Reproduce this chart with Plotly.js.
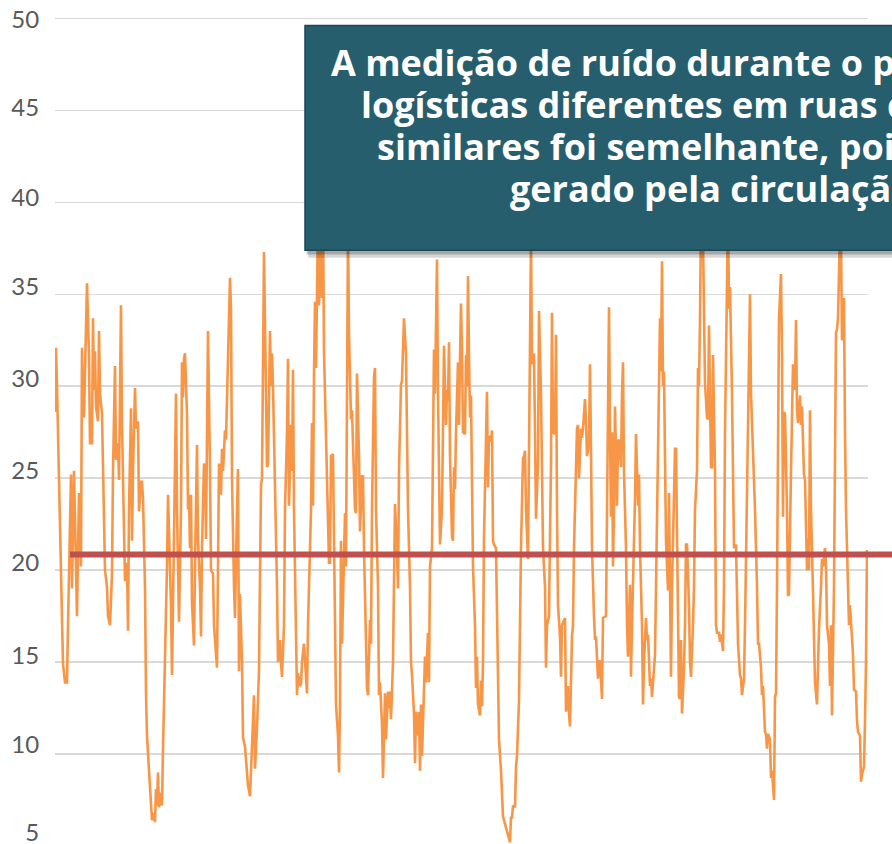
<!DOCTYPE html>
<html>
<head>
<meta charset="utf-8">
<script src="https://cdn.plot.ly/plotly-3.0.1.min.js"></script>
<style>
html,body{margin:0;padding:0;overflow:hidden;background:#fff;}
#chart{width:892px;height:872px;}
</style>
</head>
<body>
<div id="chart"></div>
<script>
// Noise readings (sample index, dB), in four stretches
const readingsA = [[0,28.6],[1,32.1],[2,30.0],[7,17.0],[8,14.9],[10,13.9],[12,13.9],[13,17.0],[14,20.2],[16,25.2],[17,19.0],[19,25.4],[21,20.2],[22,17.5],[24,24.2],[26,20.2],[27,32.1],[28,28.9],[29,28.3],[32,35.6],[34,31.7],[35,26.9],[37,26.9],[38,33.7],[39,29.8],[40,31.9],[41,28.9],[43,28.1],[44,33.0],[45,29.6],[47,28.5],[48,25.0],[50,20.0],[52,19.1],[53,17.5],[55,17.0],[57,19.8],[58,25.4],[60,31.1],[61,26.0],[63,26.9],[64,24.9],[65,28.5],[66,34.4],[67,27.9],[69,21.2],[70,19.4],[72,20.4],[73,16.7],[74,23.3],[76,28.8],[77,21.6],[78,25.4],[80,29.9],[81,27.7],[83,28.1],[84,23.2],[86,24.8],[87,24.8],[88,23.9],[90,19.1],[91,13.3],[92,11.0],[94,9.1],[96,7.4],[97,6.4],[98,6.8],[100,6.3],[101,8.1],[102,7.2],[103,9.0],[104,7.1],[106,7.9],[107,7.2],[108,10.3],[110,15.0],[112,20.2],[113,24.1],[114,22.3],[116,18.1],[117,14.3],[119,21.6],[121,29.6],[122,23.3],[124,17.2],[126,23.3],[127,31.3],[128,29.4],[129,31.5],[130,31.8],[132,28.5],[133,23.3],[134,24.1],[135,21.2],[136,24.1],[137,18.2],[139,15.9],[140,20.2],[142,26.8],[143,21.6],[145,19.1],[146,16.4],[147,21.2],[149,25.8],[150,25.6],[151,21.7],[152,27.5],[153,33.0],[155,25.4],[156,20.0],[158,19.8],[159,17.0],[162,14.7],[163,21.2],[164,25.8],[166,24.1],[167,26.6],[168,25.4],[170,27.6],[171,27.1],[172,29.6],[174,33.7],[175,35.9],[176,34.2],[177,25.0],[179,19.1],[180,17.4],[182,23.3],[183,25.5],[184,14.5],[185,18.7],[187,15.0],[188,10.9],[190,10.4],[192,8.7],[193,8.3],[195,7.7],[196,9.1],[197,9.8],[199,13.2],[200,9.2]];
const readingsB = [[202,11.4],[204,14.6],[206,24.6],[207,25.0],[209,37.3],[211,29.6],[212,25.6],[213,25.8],[215,33.0],[216,30.0],[217,31.8],[218,30.0],[219,27.5],[221,23.3],[222,19.1],[223,15.0],[225,16.2],[226,15.0],[227,14.2],[229,17.0],[230,23.3],[232,27.5],[233,31.5],[234,23.5],[236,27.9],[237,25.4],[238,30.9],[239,23.3],[241,17.0],[242,13.2],[243,14.4],[245,13.7],[246,13.8],[247,15.0],[249,16.0],[250,15.0],[252,13.3],[253,17.0],[254,18.8],[256,23.3],[257,28.0],[258,23.5],[259,30.6],[260,34.6],[261,31.0],[262,35.8],[263,39.0],[264,34.4],[266,38.0],[267,34.8],[268,39.5],[269,31.9],[271,27.5],[273,23.3],[274,20.4],[275,20.4],[276,26.2],[278,26.3],[279,21.2],[280,17.0],[281,12.7],[283,11.0],[284,9.0],[285,12.7],[286,21.6],[287,16.0],[289,20.2],[290,23.1],[291,20.2],[292,30.6],[293,38.5],[294,32.9],[296,28.2],[297,28.7],[298,26.6],[300,23.3],[301,23.1],[302,30.7],[304,26.2],[305,22.1],[307,25.1],[308,25.1],[309,21.2],[311,17.0],[312,13.6],[313,13.2],[315,17.3],[316,16.0],[317,23.3],[319,30.5],[320,31.0],[321,23.3],[323,19.1],[324,13.2],[325,13.9],[327,11.6],[328,8.7],[330,13.3],[331,10.8],[333,13.4],[334,12.5],[335,13.4],[336,11.9],[338,15.0],[339,19.1],[340,23.6],[342,21.0],[343,19.0],[344,25.4],[346,30.1],[347,30.3],[348,31.7],[349,33.7],[351,31.7],[352,27.5],[353,23.3],[355,19.1],[356,15.0],[357,14.3],[359,12.2],[360,9.5],[361,12.3],[363,11.0],[364,12.3],[365,9.1],[366,12.7],[367,9.9],[369,13.9],[370,15.3],[371,13.9],[373,16.6],[374,13.9],[375,20.2],[377,21.2],[378,25.4],[379,32.0],[380,29.6],[382,36.9],[383,29.6],[384,23.3],[385,21.4],[387,23.3],[388,27.9],[389,32.2],[391,27.9],[392,29.8],[393,29.2],[394,32.4],[395,26.2],[397,21.8],[398,21.6],[399,25.6],[400,24.4],[401,27.5],[403,31.3],[404,27.9],[405,31.5],[406,34.5]];
const readingsC = [[407,31.9],[408,27.5],[410,27.4],[411,31.7],[412,30.0],[413,36.0],[414,31.7],[415,28.3],[416,29.5],[417,25.4],[418,20.2],[420,17.0],[421,13.6],[422,15.3],[423,12.7],[425,12.1],[426,14.0],[427,12.6],[428,15.0],[429,21.8],[430,24.4],[432,29.7],[433,24.5],[434,27.3],[436,27.0],[437,27.6],[438,21.6],[439,21.4],[441,21.2],[442,17.0],[443,13.9],[444,10.8],[446,9.1],[447,7.9],[448,6.6],[450,6.2],[452,5.8],[453,5.6],[455,5.2],[456,6.6],[457,6.5],[458,7.2],[460,7.1],[461,9.3],[462,9.9],[464,12.9],[465,17.0],[466,21.2],[468,26.1],[469,26.2],[470,26.5],[471,23.3],[473,20.6],[474,25.4],[475,31.7],[476,38.0],[477,31.2],[479,31.8],[480,27.5],[481,22.8],[483,25.8],[484,34.1],[486,29.6],[487,25.4],[488,21.2],[490,19.1],[491,14.7],[492,17.0],[494,17.5],[495,21.8],[496,25.8],[497,34.0],[498,27.5],[500,27.4],[501,32.8],[502,23.3],[503,18.1],[505,16.4],[506,14.2],[507,17.0],[510,17.4],[511,12.3],[513,13.7],[514,12.2],[515,11.5],[517,16.4],[518,17.0],[519,21.2],[521,26.0],[522,27.7],[523,27.9],[524,25.0],[526,27.7],[527,27.2],[528,27.7],[530,29.3],[531,28.1],[532,26.2],[534,26.9],[535,31.2],[536,26.4],[537,21.2],[539,17.5],[540,16.2],[541,16.4],[543,14.1],[544,15.0],[545,15.1],[547,13.0],[548,17.4],[551,17.5],[552,23.3],[553,29.6],[554,34.3],[555,27.6],[556,22.9],[557,27.5],[558,20.2],[559,23.3],[560,28.9],[562,23.5],[563,27.0],[564,27.1],[566,25.6],[567,29.6],[568,31.3],[569,25.4],[571,21.2],[572,17.0],[573,15.3],[575,19.2],[576,14.2],[577,17.0],[579,21.2],[580,23.9],[581,27.4],[583,23.5],[584,25.2],[585,21.2],[587,17.0],[588,12.7],[589,15.0],[591,17.4],[592,16.2],[593,16.5],[595,13.7],[596,14.1],[597,13.1],[599,15.0],[600,15.4],[601,19.1],[603,25.4],[604,29.6],[605,33.7],[606,30.8],[607,36.8],[608,30.0],[609,30.8]];
const readingsD = [[611,21.6],[613,18.9],[614,24.2],[615,17.4],[616,14.2],[617,19.1],[618,21.2],[620,26.6],[621,26.6],[622,21.2],[623,17.0],[624,13.1],[625,13.0],[626,16.2],[627,12.2],[629,14.7],[630,17.0],[631,21.4],[632,21.4],[634,18.1],[635,15.0],[636,14.2],[638,17.0],[639,19.1],[640,23.3],[642,25.4],[643,31.0],[644,30.0],[645,33.7],[646,39.0],[648,38.0],[649,33.7],[650,30.2],[652,28.3],[653,28.2],[654,33.3],[656,25.6],[657,25.6],[658,31.7],[660,25.4],[661,17.0],[662,16.6],[664,16.6],[665,16.1],[666,16.5],[668,15.6],[669,19.1],[670,27.5],[672,34.2],[673,39.5],[674,34.2],[675,35.4],[677,29.6],[678,25.4],[679,21.2],[681,21.4],[682,18.1],[683,16.0],[685,14.3],[686,14.1],[687,13.2],[689,14.1],[690,17.0],[691,21.2],[693,27.5],[694,33.5],[695,35.0],[696,29.6],[698,26.9],[699,25.0],[700,23.3],[702,19.1],[703,16.0],[704,16.0],[706,14.7],[707,13.2],[708,13.7],[710,11.2],[711,11.1],[712,10.3],[713,11.1],[715,10.8],[716,8.7],[717,9.1],[719,7.5],[720,13.1],[721,13.3],[722,19.1],[723,27.5],[724,33.7],[726,36.1],[727,31.7],[728,22.9],[729,28.6],[730,28.5],[732,23.3],[733,18.6],[734,18.7],[736,25.4],[737,29.2],[738,31.2],[740,29.8],[741,33.6],[742,28.7],[743,28.0],[745,29.5],[746,27.9],[747,28.9],[749,25.2],[750,24.9],[751,21.4],[752,20.0],[753,21.7],[754,20.0],[755,28.7],[756,23.3],[758,18.8],[759,15.0],[760,13.9],[762,12.7],[763,15.0],[764,16.8],[766,19.1],[767,20.6],[768,20.2],[770,21.2],[771,20.2],[772,17.0],[774,16.0],[775,13.7],[776,17.0],[777,12.1],[779,19.1],[780,27.5],[781,32.9],[782,33.1],[783,33.7],[785,38.5],[786,38.0],[787,32.5],[789,34.8],[790,27.5],[791,23.3],[793,19.1],[794,17.0],[795,18.1],[797,16.0],[798,15.4],[799,13.5],[801,13.4],[802,11.8],[803,11.2],[805,11.0],[806,8.5],[807,8.9],[809,9.3],[810,11.8],[811,15.0],[812,21.1],[813,19.7]];

const meanLevel = 20.85;
const meanStartSample = 15;
const yTicks = [5,10,15,20,25,30,35,40,45,50];
const yTickLabels = ['5','10','15','20','25','30','35','40','45','50'];
const boxLines = [
  "A medição de ruído durante o período das duas operações",
  "logísticas diferentes em ruas com características",
  "similares foi semelhante, pois o ruído é sobretudo",
  "gerado pela circulação de veículos."
];

const all = readingsA.concat(readingsB, readingsC, readingsD);
const xs = all.map(p => p[0]);
const ys = all.map(p => p[1]);
const xMax = 813;

const traces = [{
  x: xs, y: ys, type: 'scatter', mode: 'lines',
  line: {color: '#F79646', width: 2.6},
  hoverinfo: 'skip', showlegend: false
}];

// In the reference picture the tick labels sit slightly above their gridlines,
// increasingly so towards the bottom; nudge the labels accordingly
// (gridlines stay on the round values through the minor ticks).
const labelNudge = [0.71, 0.49, 0.34, 0.43, 0.42, 0.42, 0.42, 0.27, 0.16, -0.06];
const labelAt = yTicks.map((v, i) => v + labelNudge[i]);

// Layout of the callout box (paper fractions of an 833.5 px tall plot) and of its text lines
const plotH = 833.5, plotTop = 12.5;
const py = px => 1 - (px - plotTop) / plotH;
const boxX0 = 0.3075, boxYTop = py(25), boxYBot = py(250);
const lineLeft = [0.3383, 0.3755, 0.3948, 0.5585];
const lineY = [py(62), py(104), py(146), py(188)];

const annotations = boxLines.map((t, i) => ({
  xref: 'paper', yref: 'paper', x: lineLeft[i], y: lineY[i], xanchor: 'left', yanchor: 'middle',
  text: t, showarrow: false, align: 'left', borderpad: 0,
  font: {family: 'Open Sans, sans-serif', size: 36, color: '#ffffff', weight: 700}
}));

const layout = {
  width: 892, height: 872,
  margin: {l: 55, r: 24, t: plotTop, b: 26},
  paper_bgcolor: '#ffffff', plot_bgcolor: '#ffffff',
  showlegend: false,
  xaxis: {range: [0, xMax], showgrid: false, zeroline: false, showticklabels: false, showline: false, ticks: ''},
  yaxis: {range: [5, 50.3], tickmode: 'array', tickvals: labelAt, ticktext: yTickLabels,
    showgrid: false, zeroline: false, showline: false,
    ticks: 'outside', ticklen: 10, tickcolor: 'rgba(0,0,0,0)',
    tickfont: {family: 'Lato, sans-serif', size: 24, color: '#595959'},
    minor: {tickmode: 'array', tickvals: yTicks, showgrid: true, gridcolor: '#d9d9d9', gridwidth: 1.6, ticks: ''}},
  shapes: [
    {type: 'line', xref: 'paper', yref: 'y', x0: meanStartSample / xMax, x1: 1.2, y0: meanLevel, y1: meanLevel,
     line: {color: '#C0504D', width: 6}, layer: 'above'},
    {type: 'rect', xref: 'paper', yref: 'paper', x0: boxX0 + 0.004, x1: 1.3, y0: boxYBot - 0.009, y1: boxYTop - 0.004,
     fillcolor: 'rgba(0,0,0,0.16)', line: {width: 0}, layer: 'above'},
    {type: 'rect', xref: 'paper', yref: 'paper', x0: boxX0 + 0.002, x1: 1.3, y0: boxYBot - 0.005, y1: boxYTop - 0.002,
     fillcolor: 'rgba(0,0,0,0.22)', line: {width: 0}, layer: 'above'},
    {type: 'rect', xref: 'paper', yref: 'paper', x0: boxX0, x1: 1.3, y0: boxYBot, y1: boxYTop,
     fillcolor: '#265E6D', line: {color: '#1c4653', width: 1.5}, layer: 'above'}
  ],
  annotations: annotations
};

Plotly.newPlot('chart', traces, layout, {displayModeBar: false, staticPlot: true});
</script>
</body>
</html>
